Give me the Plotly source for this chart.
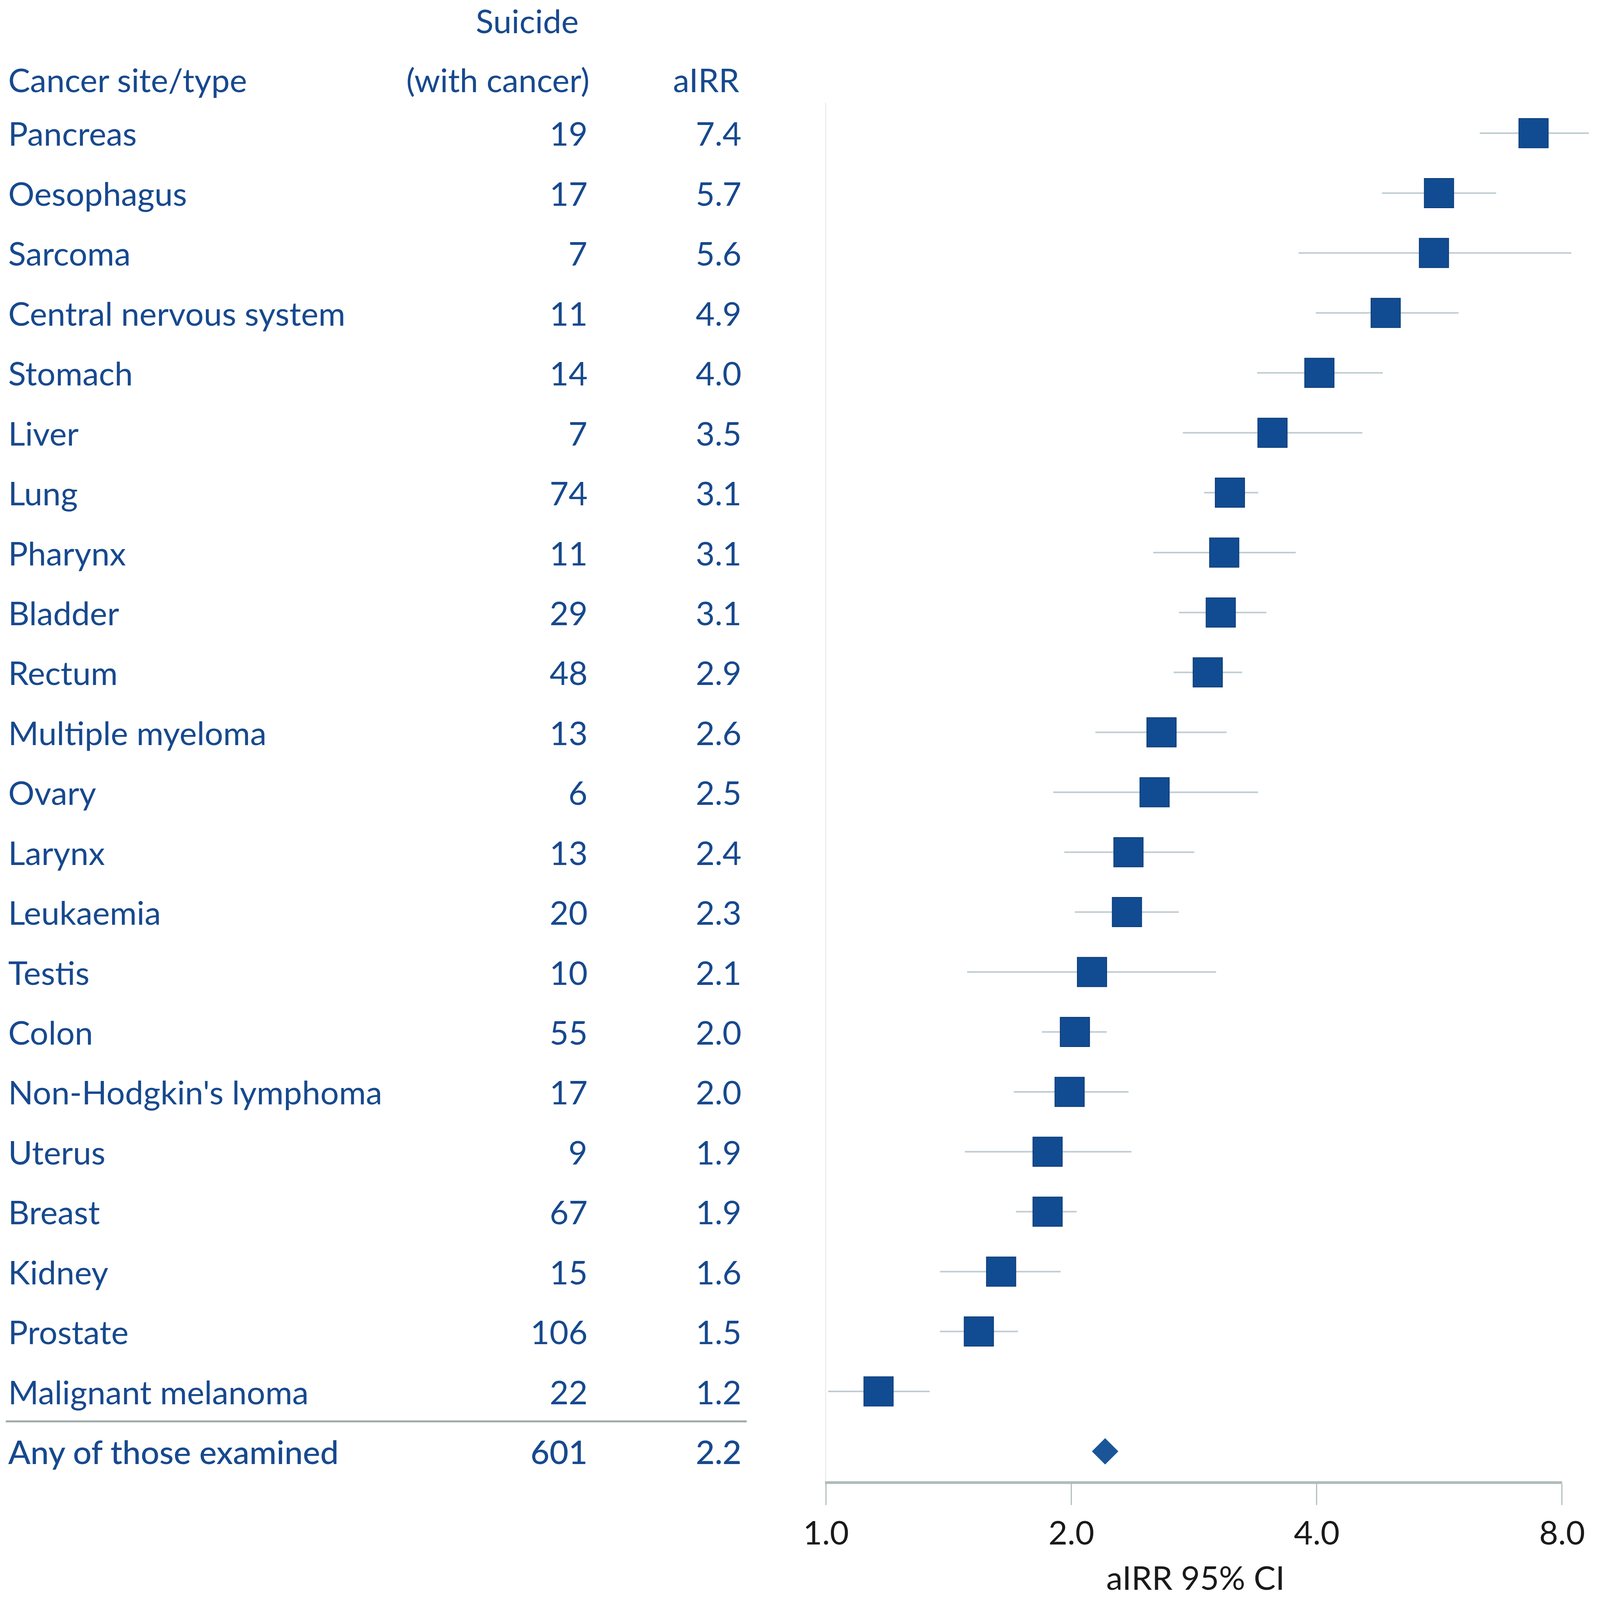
import plotly.graph_objects as go
import math

# ---------------- data ----------------
sites = ["Pancreas", "Oesophagus", "Sarcoma", "Central nervous system", "Stomach",
         "Liver", "Lung", "Pharynx", "Bladder", "Rectum", "Multiple myeloma", "Ovary",
         "Larynx", "Leukaemia", "Testis", "Colon", "Non-Hodgkin's lymphoma", "Uterus",
         "Breast", "Kidney", "Prostate", "Malignant melanoma"]
suicides = [19, 17, 7, 11, 14, 7, 74, 11, 29, 48, 13, 6, 13, 20, 10, 55, 17, 9, 67, 15, 106, 22]
airr_text = ["7.4", "5.7", "5.6", "4.9", "4.0", "3.5", "3.1", "3.1", "3.1", "2.9", "2.6", "2.5",
             "2.4", "2.3", "2.1", "2.0", "2.0", "1.9", "1.9", "1.6", "1.5", "1.2"]
# point estimates and 95% CI
airr_point = [7.38, 5.65, 5.57, 4.86, 4.03, 3.53, 3.13, 3.08, 3.05, 2.94, 2.58, 2.53,
              2.35, 2.34, 2.12, 2.02, 1.99, 1.87, 1.87, 1.64, 1.54, 1.16]
ci_low = [6.34, 4.81, 3.80, 3.99, 3.38, 2.74, 2.91, 2.52, 2.71, 2.67, 2.14, 1.90,
          1.96, 2.02, 1.49, 1.84, 1.70, 1.48, 1.71, 1.38, 1.38, 1.006]
ci_high = [8.63, 6.64, 8.21, 5.97, 4.82, 4.55, 3.39, 3.77, 3.47, 3.24, 3.10, 3.39,
           2.83, 2.71, 3.01, 2.21, 2.35, 2.37, 2.03, 1.94, 1.72, 1.34]
total_label = "Any of those examined"
total_suicides = 601
total_airr_text = "2.2"
total_airr = 2.20
tick_vals = [1, 2, 4, 8]
tick_text = ["1.0", "2.0", "4.0", "8.0"]
header_site = "Cancer site/type"
header_count_top = "Suicide"
header_count = "(with cancer)"
header_airr = "aIRR"
x_title = "aIRR 95% CI"

# ---------------- style ----------------
W, H = 4982, 4092          # reference geometry (positions are kept as fractions)
FONT = "Lato, 'Open Sans', sans-serif"
TXT = "#17498e"
SQ = "#114c92"
CI_COL = "#bfcdd3"
FS = 84

rows = list(range(len(sites)))
total_row = len(sites)

# axis geometry (pixels of the reference)
PX_ONE, PX_EIGHT = 2572, 4864          # x-pixel of 1.0 and 8.0
PX_PER_DEC = (PX_EIGHT - PX_ONE) / math.log10(tick_vals[-1])
Y_TOP_PX, Y_AXIS_PX = 263, 3793        # top of reference line, position of x axis line
ROW0_PX, ROW_STEP = 341, 153.43

vis_dom = [PX_ONE / W, PX_EIGHT / W]
vis_rng = [math.log10(tick_vals[0]), math.log10(tick_vals[-1])]
wide_dom = [0.5, 1.0]
wide_rng = [vis_rng[0] - (PX_ONE - 0.5 * W) / PX_PER_DEC, vis_rng[1] + (W - PX_EIGHT) / PX_PER_DEC]
y_dom = [1 - Y_AXIS_PX / H, 1 - Y_TOP_PX / H]
y_rng = [(Y_AXIS_PX - ROW0_PX) / ROW_STEP, (Y_TOP_PX - ROW0_PX) / ROW_STEP]
row_to_paper = lambda r: 1 - (ROW0_PX + r * ROW_STEP) / H

fig = go.Figure()

# CI lines on the hidden, wider axis (same scale) so they are not clipped at 8.0
xs, ys = [], []
for r, lo, hi in zip(rows, ci_low, ci_high):
    xs += [lo, hi, None]
    ys += [r, r, None]
fig.add_trace(go.Scatter(x=xs, y=ys, mode="lines", xaxis="x", yaxis="y",
                         line=dict(color=CI_COL, width=4),
                         hoverinfo="skip", showlegend=False))
# squares
fig.add_trace(go.Scatter(x=airr_point, y=rows, mode="markers", xaxis="x2", yaxis="y",
                         marker=dict(symbol="square", size=75, color=SQ,
                                     line=dict(color="#0b3b75", width=2)),
                         showlegend=False, cliponaxis=False))
# diamond for the pooled estimate
fig.add_trace(go.Scatter(x=[total_airr], y=[total_row], mode="markers", xaxis="x2", yaxis="y",
                         marker=dict(symbol="diamond", size=52, color="#1a5598",
                                     line=dict(width=0)),
                         showlegend=False, cliponaxis=False))

px_to_paper_x = lambda p: p / W
px_to_paper_y = lambda p: 1 - p / H

ann = []
def add_text(text, x, y, xanchor, yref="y", color=TXT, size=FS, weight=None, yanchor="middle"):
    f = dict(family=FONT, size=size, color=color)
    if weight:
        f["weight"] = weight
    ann.append(dict(text=text, x=x, y=y, xref="paper", yref=yref,
                    xanchor=xanchor, yanchor=yanchor, showarrow=False, font=f))

X_NAME = px_to_paper_x(23)
X_COUNT = px_to_paper_x(1832)
X_AIRR = px_to_paper_x(2311)

for r, name, n, a in zip(rows, sites, suicides, airr_text):
    add_text(name, X_NAME, r, "left")
    add_text(str(n), X_COUNT, r, "right")
    add_text(a, X_AIRR, r, "right")

add_text(total_label, X_NAME, total_row, "left", weight=500)
add_text(str(total_suicides), X_COUNT, total_row, "right", weight=500)
add_text(total_airr_text, X_AIRR, total_row, "right", weight=500)

# headers
HDR_ROW = -0.893
add_text(header_site, X_NAME, row_to_paper(HDR_ROW), "left", yref="paper")
add_text(header_count, px_to_paper_x(1838), row_to_paper(HDR_ROW), "right", yref="paper")
add_text(header_airr, px_to_paper_x(2305), row_to_paper(HDR_ROW), "right", yref="paper")
add_text(header_count_top, px_to_paper_x(1642), 1.0, "center", yref="paper", yanchor="top")

# x axis title
add_text(x_title, px_to_paper_x(3722), px_to_paper_y(4038), "center",
         yref="paper", color="#1a1a1a")

shapes = [
    # table separator
    dict(type="line", xref="paper", yref="y", x0=px_to_paper_x(18), x1=px_to_paper_x(2325),
         y0=total_row - 0.5, y1=total_row - 0.5, line=dict(color="#9eaaaa", width=5)),
]

fig.update_layout(
    autosize=True,
    margin=dict(l=0, r=0, t=0, b=0, pad=0),
    paper_bgcolor="white", plot_bgcolor="rgba(0,0,0,0)",
    showlegend=False,
    annotations=ann, shapes=shapes,
    # hidden wide axis carrying the CI lines
    xaxis=dict(type="log", domain=wide_dom, range=wide_rng, anchor="y", visible=False,
               showgrid=False, zeroline=False, automargin=False),
    # visible axis: line + ticks spanning exactly 1.0 .. 8.0 (same scale)
    xaxis2=dict(type="log", domain=vis_dom, range=vis_rng, anchor="y",
                tickvals=tick_vals, ticktext=tick_text,
                ticks="outside", ticklen=54, tickwidth=3, tickcolor="#b3bfbf",
                ticklabelstandoff=0, automargin=False,
                showline=True, linecolor="#b0bcbc", linewidth=7,
                showgrid=False, zeroline=False,
                tickfont=dict(family=FONT, size=FS, color="#1a1a1a")),
    yaxis=dict(domain=y_dom, range=y_rng, anchor="x2", automargin=False,
               showgrid=False, zeroline=False, showticklabels=False, ticks="",
               showline=True, linecolor="#ececec", linewidth=3),
)

fit_page = """
var gd = document.getElementById('{plot_id}');
document.documentElement.style.margin='0';
document.body.style.margin='0';
document.body.style.overflow='hidden';
Plotly.Plots.resize(gd);
"""

fig.write_html("out.html", default_width="100vw", default_height="100vh",
               config={"responsive": True, "displayModeBar": False},
               post_script=fit_page)
